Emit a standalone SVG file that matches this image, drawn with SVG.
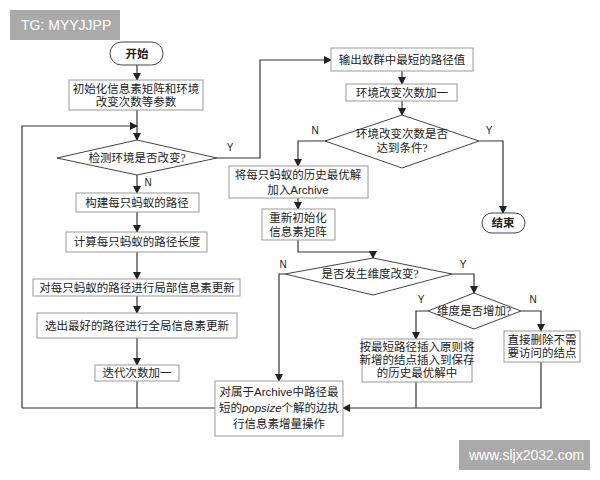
<svg xmlns="http://www.w3.org/2000/svg" width="600" height="480" viewBox="0 0 600 480">
<defs>
<marker id="ah" markerWidth="8" markerHeight="8" refX="7" refY="4" orient="auto" markerUnits="userSpaceOnUse"><path d="M0,0 L8,4 L0,8 z" fill="#222"/></marker>
<style>
.b{fill:#fff;stroke:#999;stroke-width:1}
.d{fill:#fff;stroke:#444;stroke-width:1}
.t{font-family:"Liberation Serif","Noto Sans CJK SC",serif;font-size:11.5px;fill:#222;text-anchor:middle}
.s{font-family:"Liberation Sans","Noto Sans CJK SC",sans-serif;font-size:10px;fill:#222;text-anchor:middle}
.c{fill:none;stroke:#333;stroke-width:1.2}
.w{font-family:"Liberation Sans",sans-serif;font-size:14px;fill:#fff}
</style>
</defs>
<rect width="600" height="480" fill="#fff"/>
<rect x="10" y="10" width="110" height="30" fill="#aaa"/>
<text class="w" x="21" y="30">TG: MYYJJPP</text>
<rect x="459" y="440" width="131" height="30" fill="#aaa"/>
<text class="w" x="469" y="460">www.sljx2032.com</text>
<g id="connectors">
<path class="c" d="M137,65 V80" marker-end="url(#ah)"/>
<path class="c" d="M137,110 V140" marker-end="url(#ah)"/>
<path class="c" d="M22,408 V126 H137" marker-end="url(#ah)"/>
<path class="c" d="M217,158 H260 V60 H331" marker-end="url(#ah)"/>
<path class="c" d="M137,175 V193" marker-end="url(#ah)"/>
<path class="c" d="M137,212 V232" marker-end="url(#ah)"/>
<path class="c" d="M137,252 V279" marker-end="url(#ah)"/>
<path class="c" d="M137,296 V313" marker-end="url(#ah)"/>
<path class="c" d="M137,338 V365" marker-end="url(#ah)"/>
<path class="c" d="M137,381 V408"/>
<path class="c" d="M22,408 H215"/>
<path class="c" d="M402,71 V84" marker-end="url(#ah)"/>
<path class="c" d="M402,101 V115" marker-end="url(#ah)"/>
<path class="c" d="M325,141 H298 V166" marker-end="url(#ah)"/>
<path class="c" d="M479,141 H503 V213" marker-end="url(#ah)"/>
<path class="c" d="M298,198 V209" marker-end="url(#ah)"/>
<path class="c" d="M298,240 V252 H373 V258" marker-end="url(#ah)"/>
<path class="c" d="M285,274 H279 V381" marker-end="url(#ah)"/>
<path class="c" d="M452,274 H474 V293" marker-end="url(#ah)"/>
<path class="c" d="M428,311 H416 V339" marker-end="url(#ah)"/>
<path class="c" d="M521,311 H541 V331" marker-end="url(#ah)"/>
<path class="c" d="M416,382 V408"/>
<path class="c" d="M541,362 V408 H343" marker-end="url(#ah)"/>
<text class="s" x="230" y="151">Y</text>
<text class="s" x="148" y="186">N</text>
<text class="s" x="315" y="134">N</text>
<text class="s" x="489" y="134">Y</text>
<text class="s" x="283" y="268">N</text>
<text class="s" x="463" y="268">Y</text>
<text class="s" x="421" y="303">Y</text>
<text class="s" x="533" y="303">N</text>
</g>
<g id="start"><rect class="d" x="110" y="42" width="53" height="23" rx="11.5"/><text class="t" x="137" y="58" font-weight="bold">开始</text></g>
<g id="init"><rect class="b" x="69" y="80" width="134" height="30"/><text class="t" x="136" y="93">初始化信息素矩阵和环境</text><text class="t" x="136" y="106">改变次数等参数</text></g>
<g id="check"><polygon class="d" points="57,158 137,140 217,158 137,175"/><text class="t" x="137" y="162">检测环境是否改变?</text></g>
<g id="build"><rect class="b" x="76" y="193" width="123" height="19"/><text class="t" x="137" y="207">构建每只蚂蚁的路径</text></g>
<g id="calc"><rect class="b" x="66" y="232" width="141" height="20"/><text class="t" x="137" y="246">计算每只蚂蚁的路径长度</text></g>
<g id="local"><rect class="b" x="33" y="279" width="207" height="17"/><text class="t" x="137" y="292">对每只蚂蚁的路径进行局部信息素更新</text></g>
<g id="global"><rect class="b" x="37" y="313" width="200" height="25"/><text class="t" x="137" y="330">选出最好的路径进行全局信息素更新</text></g>
<g id="iter"><rect class="b" x="95" y="365" width="84" height="16"/><text class="t" x="137" y="377">迭代次数加一</text></g>
<g id="output"><rect class="b" x="331" y="48" width="142" height="23"/><text class="t" x="402" y="64">输出蚁群中最短的路径值</text></g>
<g id="envinc"><rect class="b" x="346" y="84" width="111" height="17"/><text class="t" x="402" y="97">环境改变次数加一</text></g>
<g id="cond"><polygon class="d" points="325,141 402,115 479,141 402,168"/><text class="t" x="402" y="138" font-size="10.5">环境改变次数是否</text><text class="t" x="402" y="152" font-size="10.5">达到条件?</text></g>
<g id="end"><rect class="d" x="482" y="213" width="43" height="20" rx="10"/><text class="t" x="503" y="227" font-weight="bold">结束</text></g>
<g id="archive"><rect class="b" x="229" y="166" width="139" height="32"/><text class="t" x="298" y="179">将每只蚂蚁的历史最优解</text><text class="t" x="298" y="194">加入<tspan font-family="Liberation Sans,sans-serif">Archive</tspan></text></g>
<g id="reinit"><rect class="b" x="262" y="209" width="73" height="31"/><text class="t" x="298" y="222">重新初始化</text><text class="t" x="298" y="236">信息素矩阵</text></g>
<g id="dim"><polygon class="d" points="285,274 373,258 452,274 373,295"/><text class="t" x="370" y="278">是否发生维度改变?</text></g>
<g id="dimadd"><polygon class="d" points="428,311 474,293 521,311 474,329"/><text class="t" x="474" y="315" font-size="10.5">维度是否增加?</text></g>
<g id="insert"><rect class="b" x="362" y="339" width="110" height="43"/><text class="t" x="417" y="351" font-size="10.5">按最短路径插入原则将</text><text class="t" x="417" y="364" font-size="10.5">新增的结点插入到保存</text><text class="t" x="417" y="377" font-size="10.5">的历史最优解中</text></g>
<g id="delete"><rect class="b" x="504" y="331" width="76" height="31"/><text class="t" x="542" y="344" font-size="10.5">直接删除不需</text><text class="t" x="542" y="357" font-size="10.5">要访问的结点</text></g>
<g id="incr"><rect class="b" x="215" y="381" width="128" height="55"/><text class="t" x="279" y="396">对属于<tspan font-family="Liberation Sans,sans-serif">Archive</tspan>中路径最</text><text class="t" x="279" y="412">短的<tspan font-family="Liberation Sans,sans-serif" font-style="italic">popsize</tspan>个解的边执</text><text class="t" x="279" y="428">行信息素增量操作</text></g>
</svg>
